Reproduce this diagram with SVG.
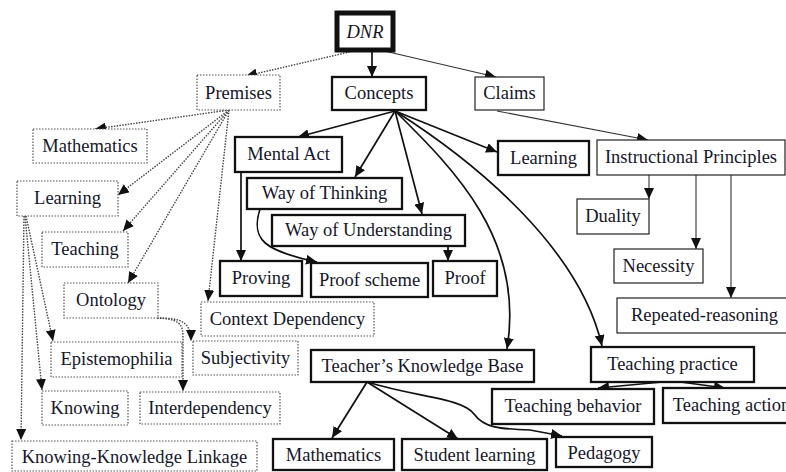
<svg xmlns="http://www.w3.org/2000/svg" width="786" height="472" viewBox="0 0 786 472">
  <defs>
    <marker id="ah" viewBox="0 0 11 10" refX="11" refY="5" markerWidth="11" markerHeight="10" markerUnits="userSpaceOnUse" orient="auto">
      <path d="M0,0 L11,5 L0,10 z" fill="#111"/>
    </marker>
    <style>
      .lbl { font-family: "Liberation Serif", "Times New Roman", serif; font-size: 18.5px; fill: #16162a; text-anchor: middle; }
      .it { font-style: italic; }
      .dot { fill: #fff; stroke: #555; stroke-width: 1.2; stroke-dasharray: 1.5 1.5; }
      .thin { fill: #fff; stroke: #222; stroke-width: 1.2; }
      .bold { fill: #fff; stroke: #111; stroke-width: 2.3; }
      .heavy { fill: #fff; stroke: #111; stroke-width: 5; }
      .c { fill: none; stroke: #111; stroke-width: 1.7; marker-end: url(#ah); }
      .ct { fill: none; stroke: #333; stroke-width: 1.1; marker-end: url(#ah); }
      .cd { fill: none; stroke: #444; stroke-width: 1.4; stroke-dasharray: 1.5 1.3; marker-end: url(#ah); }
    </style>
  </defs>
  <rect width="786" height="472" fill="#fff"/>

  <!-- connectors -->
  <g id="connectors">
    <!-- from DNR -->
    <path class="cd" d="M358,50 L246,76"/>
    <path class="c" d="M372,50 L372,77"/>
    <path class="ct" d="M380,50 L496,77"/>
    <!-- from Premises -->
    <path class="cd" d="M229,110 L95,129"/>
    <path class="cd" d="M229,110 L118,195"/>
    <path class="cd" d="M229,110 L123,231"/>
    <path class="cd" d="M229,110 L128,283"/>
    <path class="cd" d="M229,110 L208,301"/>
    <!-- from Learning (premise) -->
    <path class="cd" d="M26,216 L53,341"/>
    <path class="cd" d="M25,216 L42,390"/>
    <path class="cd" d="M24,216 L21,440"/>
    <!-- from Ontology -->
    <path class="cd" d="M157,318 C178,318 191,320 191,341"/>
    <path class="cd" d="M157,318 C176,319 183,322 183,336 L183,391"/>
    <!-- from Concepts -->
    <path class="c" d="M395,111 L298,137"/>
    <path class="c" d="M395,111 L355,177"/>
    <path class="c" d="M395,111 L422,214"/>
    <path class="c" d="M395,111 L497,152"/>
    <path class="c" d="M395,111 C455,170 525,240 507,349"/>
    <path class="c" d="M395,111 C480,165 580,250 602,346"/>
    <!-- within the concepts cluster -->
    <path class="c" d="M241,172 L241,261"/>
    <path class="c" d="M260,209 C250,240 265,251 317,262"/>
    <path class="c" d="M448,246 L448,261"/>
    <!-- from Claims -->
    <path class="ct" d="M497,111 L648,140"/>
    <!-- from Instructional Principles -->
    <path class="ct" d="M649,175 L649,199"/>
    <path class="ct" d="M696,175 L696,249"/>
    <path class="ct" d="M731,175 L731,298"/>
    <!-- from Teacher's Knowledge Base -->
    <path class="c" d="M367,382 L332,438"/>
    <path class="c" d="M367,382 L458,439"/>
    <path class="c" d="M367,382 C420,398 462,398 474,414 C484,428 500,429 530,430 L562,436"/>
    <!-- from Teaching practice -->
    <path class="c" d="M673,381 L598,388"/>
    <path class="c" d="M673,381 L725,388"/>
  </g>

  <!-- nodes -->
  <g id="dnr"><rect class="heavy" x="337" y="13" width="56" height="37"/><text class="lbl it" x="365" y="38">DNR</text></g>
  <g id="premises"><rect class="dot" x="197" y="75" width="83" height="35"/><text class="lbl" x="238.5" y="99">Premises</text></g>
  <g id="concepts"><rect class="bold" x="332" y="77" width="94" height="33"/><text class="lbl" x="379" y="99">Concepts</text></g>
  <g id="claims"><rect class="thin" x="475" y="77" width="69" height="33"/><text class="lbl" x="509.5" y="99">Claims</text></g>

  <g id="p-mathematics"><rect class="dot" x="33" y="129" width="114" height="34"/><text class="lbl" x="90" y="152">Mathematics</text></g>
  <g id="p-learning"><rect class="dot" x="17" y="181" width="101" height="35"/><text class="lbl" x="67.5" y="204">Learning</text></g>
  <g id="p-teaching"><rect class="dot" x="42" y="232" width="86" height="35"/><text class="lbl" x="85" y="255">Teaching</text></g>
  <g id="p-ontology"><rect class="dot" x="64" y="283" width="94" height="35"/><text class="lbl" x="111" y="306">Ontology</text></g>
  <g id="p-context"><rect class="dot" x="201" y="302" width="173" height="34"/><text class="lbl" x="287.5" y="325">Context Dependency</text></g>
  <g id="p-subjectivity"><rect class="dot" x="193" y="341" width="105" height="34"/><text class="lbl" x="245.5" y="364">Subjectivity</text></g>
  <g id="p-epistemophilia"><rect class="dot" x="51" y="342" width="131" height="35"/><text class="lbl" x="116.5" y="365">Epistemophilia</text></g>
  <g id="p-knowing"><rect class="dot" x="42" y="391" width="86" height="34"/><text class="lbl" x="85" y="414">Knowing</text></g>
  <g id="p-interdependency"><rect class="dot" x="140" y="392" width="140" height="32"/><text class="lbl" x="210" y="414">Interdependency</text></g>
  <g id="p-linkage"><rect class="dot" x="12" y="441" width="245" height="30"/><text class="lbl" x="134.5" y="463">Knowing-Knowledge Linkage</text></g>

  <g id="c-mental-act"><rect class="bold" x="235" y="137" width="107" height="35"/><text class="lbl" x="288.5" y="160">Mental Act</text></g>
  <g id="c-way-thinking"><rect class="bold" x="247" y="178" width="155" height="31"/><text class="lbl" x="324.5" y="199">Way of Thinking</text></g>
  <g id="c-way-understanding"><rect class="bold" x="272" y="215" width="193" height="31"/><text class="lbl" x="368.5" y="236">Way of Understanding</text></g>
  <g id="c-proving"><rect class="bold" x="220" y="261" width="82" height="35"/><text class="lbl" x="261" y="284">Proving</text></g>
  <g id="c-proof-scheme"><rect class="bold" x="311" y="263" width="117" height="34"/><text class="lbl" x="369.5" y="286">Proof scheme</text></g>
  <g id="c-proof"><rect class="bold" x="433" y="261" width="64" height="35"/><text class="lbl" x="465" y="284">Proof</text></g>
  <g id="c-learning"><rect class="bold" x="498" y="141" width="91" height="34"/><text class="lbl" x="543.5" y="164">Learning</text></g>

  <g id="instructional-principles"><rect class="thin" x="597" y="140" width="188" height="35"/><text class="lbl" x="691" y="163">Instructional Principles</text></g>
  <g id="duality"><rect class="thin" x="577" y="199" width="72" height="35"/><text class="lbl" x="613" y="222">Duality</text></g>
  <g id="necessity"><rect class="thin" x="614" y="249" width="89" height="34"/><text class="lbl" x="658.5" y="272">Necessity</text></g>
  <g id="repeated-reasoning"><rect class="thin" x="617" y="298" width="180" height="35"/><text class="lbl" x="704.5" y="321">Repeated-reasoning</text></g>

  <g id="tkb"><rect class="bold" x="311" y="350" width="223" height="32"/><text class="lbl" x="422.5" y="372">Teacher’s Knowledge Base</text></g>
  <g id="teaching-practice"><rect class="bold" x="591" y="347" width="163" height="35"/><text class="lbl" x="672.5" y="370">Teaching practice</text></g>
  <g id="teaching-behavior"><rect class="bold" x="492" y="389" width="162" height="35"/><text class="lbl" x="573" y="412">Teaching behavior</text></g>
  <g id="teaching-action"><rect class="bold" x="663" y="388" width="140" height="35"/><text class="lbl" x="731.5" y="411">Teaching action</text></g>
  <g id="k-mathematics"><rect class="bold" x="273" y="439" width="121" height="31"/><text class="lbl" x="333.5" y="461">Mathematics</text></g>
  <g id="k-student-learning"><rect class="bold" x="402" y="439" width="145" height="31"/><text class="lbl" x="474.5" y="461">Student learning</text></g>
  <g id="k-pedagogy"><rect class="bold" x="556" y="437" width="96" height="30"/><text class="lbl" x="604" y="459">Pedagogy</text></g>
</svg>
